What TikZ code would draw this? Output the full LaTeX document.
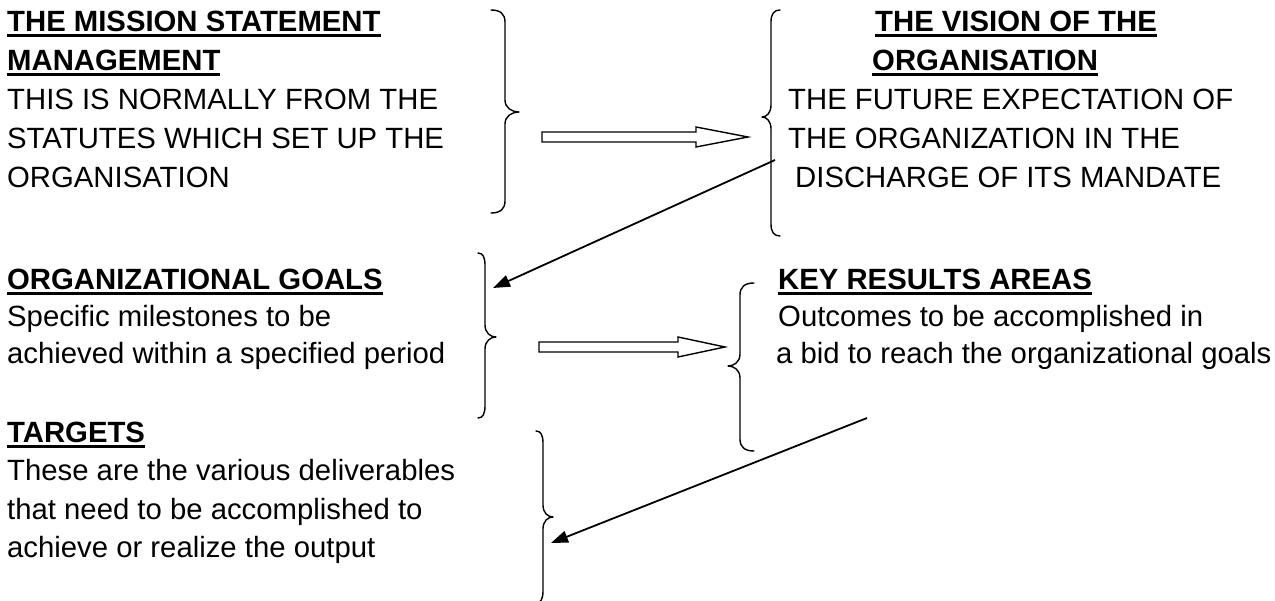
\documentclass[tikz,border=0pt]{standalone}
\usepackage{fontspec}
\setmainfont{Liberation Sans}
\usetikzlibrary{arrows.meta,calc}
\newsavebox{\hdbox}
\newcommand{\hd}[1]{\sbox{\hdbox}{\bfseries #1}\rlap{\rule[-5.5pt]{\wd\hdbox}{3pt}}\usebox{\hdbox}}
% brace: #1 vertical x, #2 top y, #3 tip y, #4 bottom y, #5 end offset, #6 tip offset
\newcommand{\BraceDraw}[6]{%
  \draw[bracestyle] ({#1-#5},#2) .. controls ({#1-#5/3},#2) and (#1,{#2+4}) .. (#1,{#2+12})
    -- (#1,{#3-12}) .. controls (#1,{#3-4}) and ({#1+#6/2},#3) .. ({#1+#6},#3)
    .. controls ({#1+#6/2},#3) and (#1,{#3+4}) .. (#1,{#3+12})
    -- (#1,{#4-12}) .. controls (#1,{#4-4}) and ({#1-#5/3},#4) .. ({#1-#5},#4);}
\begin{document}
\begin{tikzpicture}[x=1pt,y=-1pt,
  txt/.style={anchor=base west, inner sep=0pt, font=\fontsize{29.3}{35}\selectfont},
  bracestyle/.style={line width=1.4pt, line cap=round, line join=round},
  conn/.style={line width=1.8pt, -{Triangle[length=17pt,width=12pt]}},
  hollow/.style={line width=1.4pt, fill=white, line join=miter}]
\useasboundingbox (0,0) rectangle (1275,601);
% mission
\node[txt] (m1) at (7,32) {\hd{THE MISSION STATEMENT}};
\node[txt] (m2) at (7,71) {\hd{MANAGEMENT}};
\node[txt] (m3) at (7,110) {THIS IS NORMALLY FROM THE};
\node[txt] (m4) at (7,149) {STATUTES WHICH SET UP THE};
\node[txt] (m5) at (7,188) {ORGANISATION};
% vision
\node[txt] (v1) at (875,32) {\hd{THE VISION OF THE}};
\node[txt] (v2) at (872,71) {\hd{ORGANISATION}};
\node[txt] (v3) at (788,110) {THE FUTURE EXPECTATION OF};
\node[txt] (v4) at (788,149) {THE ORGANIZATION IN THE};
\node[txt] (v5) at (795,188) {DISCHARGE OF ITS MANDATE};
% goals
\node[txt] (g1) at (7,290) {\hd{ORGANIZATIONAL GOALS}};
\node[txt] (g2) at (7,327) {Specific milestones to be};
\node[txt] (g3) at (7,364) {achieved within a specified period};
% key results
\node[txt] (k1) at (778,290) {\hd{KEY RESULTS AREAS}};
\node[txt] (k2) at (778,327) {Outcomes to be accomplished in};
\node[txt] (k3) at (776,364) {a bid to reach the organizational goals};
% targets
\node[txt] (t1) at (7,443) {\hd{TARGETS}};
\node[txt] (t2) at (7,481) {These are the various deliverables};
\node[txt] (t3) at (7,519) {that need to be accomplished to};
\node[txt] (t4) at (7,557) {achieve or realize the output};
% braces
\BraceDraw{505}{10}{112}{213}{14}{14}
\BraceDraw{771}{10}{117}{236}{-9}{-9}
\BraceDraw{485}{253}{337}{418}{7}{11}
\BraceDraw{740}{283}{366}{451}{-14}{-12}
\BraceDraw{543}{431}{517}{603}{7}{10}
% hollow arrows
\coordinate (h1s) at (542,137); \coordinate (h1e) at (748,137);
\draw[hollow] ($(h1s)+(0,-5)$) -- ($(h1e)+(-52,-5)$) -- ($(h1e)+(-52,-10)$) -- (h1e)
  -- ($(h1e)+(-52,10)$) -- ($(h1e)+(-52,5)$) -- ($(h1s)+(0,5)$) -- cycle;
\coordinate (h2s) at (539,347); \coordinate (h2e) at (725,347);
\draw[hollow] ($(h2s)+(0,-5)$) -- ($(h2e)+(-47,-5)$) -- ($(h2e)+(-47,-10)$) -- (h2e)
  -- ($(h2e)+(-47,10)$) -- ($(h2e)+(-47,5)$) -- ($(h2s)+(0,5)$) -- cycle;
% connectors
\coordinate (a1s) at (775,160); \coordinate (a1e) at (493,288);
\draw[conn] (a1s) -- (a1e);
\coordinate (b1s) at (867,418); \coordinate (b1e) at (551,543);
\draw[conn] (b1s) -- (b1e);
\end{tikzpicture}
\end{document}
